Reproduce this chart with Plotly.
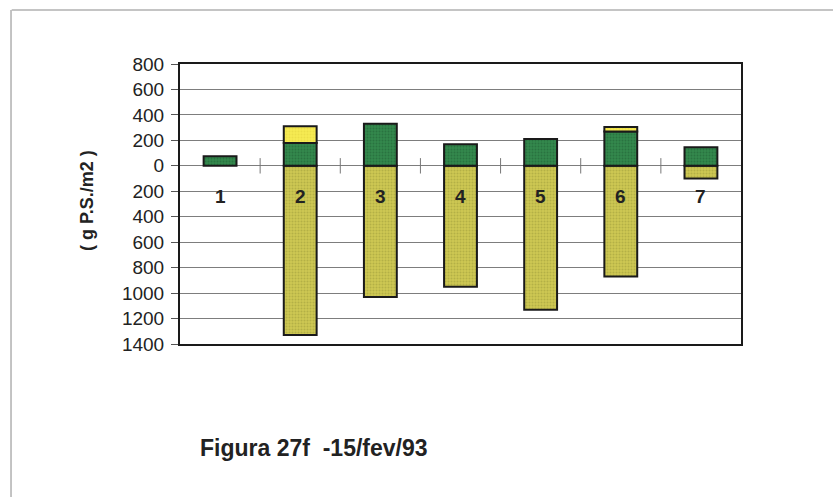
import plotly.graph_objects as go

# Biomass per site (g P.S./m2): below-ground shown as negative, above-ground stacked upward
sites = [1, 2, 3, 4, 5, 6, 7]
site_labels = ["1", "2", "3", "4", "5", "6", "7"]
below_ground = [None, -1330, -1030, -950, -1130, -870, -100]
green_part = [75, 180, 330, 170, 210, 270, 145]
dead_part = [None, 130, None, None, None, 35, None]

y_ticks = [800, 600, 400, 200, 0, -200, -400, -600, -800, -1000, -1200, -1400]
y_tick_text = ["800", "600", "400", "200", "0", "200", "400", "600", "800", "1000", "1200", "1400"]

FONT = "Liberation Sans, Arial, sans-serif"
BAR_W = 0.41

fig = go.Figure()


def add_bar(values, color, dot):
    fig.add_trace(go.Bar(
        x=sites, y=values, width=BAR_W,
        marker=dict(
            color=color,
            line=dict(color="#1a1a1a", width=2),
            pattern=dict(shape=".", size=3, solidity=0.35, fgcolor=dot, fillmode="overlay"),
        ),
        showlegend=False, hoverinfo="skip",
    ))


add_bar(below_ground, "#cdc752", "#9c9a3a")
add_bar(green_part, "#33884c", "#1f5e33")
add_bar(dead_part, "#f6ea52", "#e0d440")

# small category-separator ticks on the zero line
seps = [s + 0.5 for s in sites[:-1]]
fig.add_trace(go.Scatter(
    x=seps, y=[0] * len(seps), mode="markers",
    marker=dict(symbol="line-ns", size=11, color="#777777", line=dict(color="#777777", width=1)),
    showlegend=False, hoverinfo="skip",
))

annotations = [
    dict(x=s, y=-240, xref="x", yref="y", text=f"<b>{lab}</b>", showarrow=False,
         font=dict(family=FONT, size=19, color="#222222"))
    for s, lab in zip(sites, site_labels)
]
annotations.append(dict(
    x=-0.166, y=0.514, xref="paper", yref="paper", xanchor="center", yanchor="middle",
    text="<b>( g P.S./m2 )</b>",
    textangle=-90, showarrow=False, font=dict(family=FONT, size=18, color="#222222"),
))
annotations.append(dict(
    x=0.032, y=-0.37, xref="paper", yref="paper", xanchor="left", yanchor="middle",
    text="<b>Figura 27f  -15/fev/93</b>", showarrow=False,
    font=dict(family=FONT, size=23, color="#222222"),
))

fig.update_layout(
    width=833, height=497,
    margin=dict(l=180, r=92, t=64, b=153),
    barmode="relative",
    paper_bgcolor="white", plot_bgcolor="white",
    annotations=annotations,
    shapes=[
        # outer page frame (left and top edges)
        dict(type="line", xref="paper", yref="paper", x0=-0.30, x1=1.2, y0=1.193, y1=1.193,
             line=dict(color="#b0b0b0", width=1.5)),
        dict(type="line", xref="paper", yref="paper", x0=-0.3012, x1=-0.3012, y0=1.193, y1=-0.6,
             line=dict(color="#b0b0b0", width=1.5)),
    ],
    xaxis=dict(
        range=[0.5, 7.5], showticklabels=False, showgrid=False, zeroline=False,
        showline=True, mirror=True, linecolor="#1a1a1a", linewidth=2, ticks="",
    ),
    yaxis=dict(
        range=[-1400, 800], tickmode="array", tickvals=y_ticks, ticktext=y_tick_text,
        showgrid=True, gridcolor="#7d7d7d", gridwidth=1,
        zeroline=True, zerolinecolor="#7d7d7d", zerolinewidth=1,
        showline=True, mirror=True, linecolor="#1a1a1a", linewidth=2,
        ticks="outside", ticklen=7, tickcolor="#555555",
        tickfont=dict(family=FONT, size=19, color="#222222"),
        ticklabelstandoff=3,
    ),
)

fig.write_html("out.html")
